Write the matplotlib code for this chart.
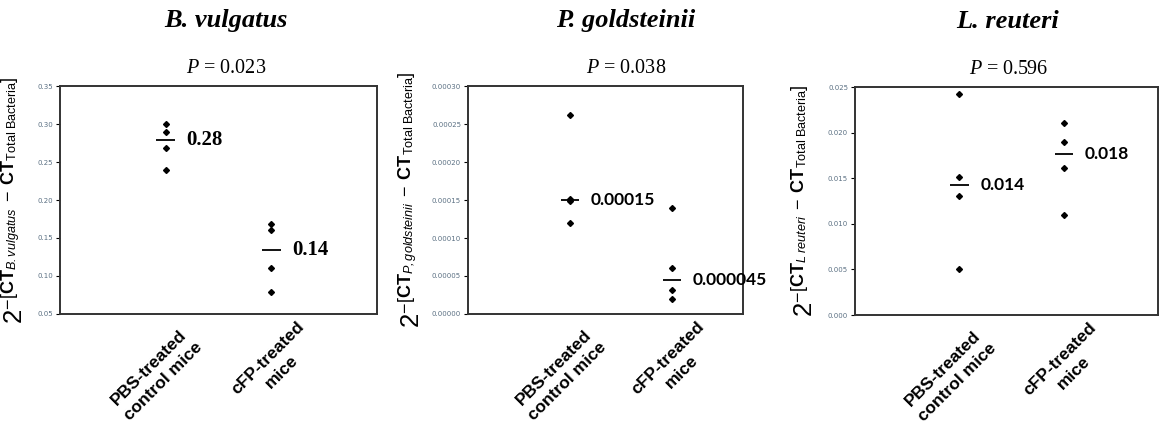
import matplotlib
matplotlib.use('Agg')
from matplotlib import pyplot as plt
from matplotlib.ticker import FormatStrFormatter
import matplotlib.transforms as mtrans
import numpy as np

plt.rcParams['mathtext.fontset'] = 'custom'
plt.rcParams['mathtext.rm'] = 'Liberation Sans'
plt.rcParams['mathtext.sf'] = 'Liberation Sans:italic'
plt.rcParams['mathtext.it'] = 'Liberation Serif:italic'
plt.rcParams['mathtext.bf'] = 'Liberation Sans:bold'

groups = ['PBS-treated\ncontrol mice', 'cFP-treated\nmice']

titles = ['B. vulgatus', 'P. goldsteinii', 'L. reuteri']
pvals = ['0.023', '0.038', '0.596']
species_sub = ['B. vulgatus', 'P, goldsteinii', 'L\\ reuteri']

# individual mice
bv_pbs = [0.300, 0.289, 0.269, 0.240]
bv_cfp = [0.169, 0.160, 0.110, 0.079]
pg_pbs = [0.000262, 0.000151, 0.000149, 0.000120]
pg_cfp = [0.000140, 0.000060, 0.000032, 0.000020]
lr_pbs = [0.0242, 0.0151, 0.0131, 0.0050]
lr_cfp = [0.0211, 0.0190, 0.0161, 0.0110]

# group means as drawn / labelled
bv_mean = [0.279, 0.134]
pg_mean = [0.00015, 0.000045]
lr_mean = [0.0142, 0.01765]
bv_lab = ['0.28', '0.14']
pg_lab = ['0.00015', '0.000045']
lr_lab = ['0.014', '0.018']

ylims = [(0.05, 0.35), (0.0, 0.0003), (0.0, 0.025)]
ysteps = [0.05, 0.00005, 0.005]
yfmts = ['%.2f', '%.5f', '%.3f']

panels = [
    (bv_pbs, bv_cfp, bv_mean, bv_lab),
    (pg_pbs, pg_cfp, pg_mean, pg_lab),
    (lr_pbs, lr_cfp, lr_mean, lr_lab),
]

W, H = 1162, 430
# axes boxes in pixels: left, right, top, bottom
boxes = [(60, 377, 86, 314), (468, 743, 86, 314), (855, 1158, 87, 315)]
xlims = [(0, 3.0), (0, 2.7), (0, 2.9)]
ylab_x = [-0.10, -0.156, -0.122]
title_x = [0.525, 0.575, 0.505]
lab_fonts = ['Liberation Serif', 'Lato', 'Lato']
lab_sizes = [15, 12.5, 12.5]

fig = plt.figure(figsize=(W / 100, H / 100), dpi=100)

for i, (pbs, cfp, means, labs) in enumerate(panels):
    l, r, t, b = boxes[i]
    ax = fig.add_axes([l / W, 1 - b / H, (r - l) / W, (b - t) / H])
    xs = [1, 2]
    for x, vals in zip(xs, [pbs, cfp]):
        ax.plot([x] * len(vals), vals, 'D', color='black', ms=3, clip_on=False)
    for x, m, s in zip(xs, means, labs):
        ax.hlines(m, x - 0.09, x + 0.09, color='black', lw=1.3)
        ax.annotate(s, (x, m), xytext=(15, 0), textcoords='offset points',
                    ha='left', va='center', fontsize=lab_sizes[i], fontweight='bold',
                    family=lab_fonts[i])
    ax.set_xlim(*xlims[i])
    lo, hi = ylims[i]
    ax.set_ylim(lo, hi)
    ax.set_yticks(np.arange(lo, hi + ysteps[i] / 2, ysteps[i]))
    ax.yaxis.set_major_formatter(FormatStrFormatter(yfmts[i]))
    ax.tick_params(axis='y', labelsize=5, labelcolor='#5b7083', length=3,
                   width=0.8, pad=2)
    ax.set_xticks(xs)
    ax.set_xticklabels(groups, rotation=45, ha='right', va='center',
                       rotation_mode='anchor', multialignment='center',
                       fontsize=12.5, fontweight='bold', family='Liberation Sans',
                       linespacing=1.4)
    ax.tick_params(axis='x', length=0, pad=0)
    offs = [(27, 24), (37, 17)]
    for lbl, (dx, dy) in zip(ax.get_xticklabels(), offs):
        lbl.set_transform(lbl.get_transform() +
                          mtrans.ScaledTranslation(dx / 100, -dy / 100, fig.dpi_scale_trans))
    for sp in ax.spines.values():
        sp.set_linewidth(1.4)
        sp.set_color('#333333')
    ylab = (r'$2^{-[\mathbf{CT}_{\mathsf{' + species_sub[i] + r'}}\ -\ '
            r'\mathbf{CT}_{\mathrm{Total\ Bacteria}}]}$')
    ax.set_ylabel(ylab, fontsize=18.5, family='Liberation Sans')
    ax.yaxis.set_label_coords(ylab_x[i], 0.5)
    ax.text(title_x[i], 1 + (86 - 20) / (b - t), titles[i], transform=ax.transAxes,
            ha='center', va='center', fontsize=19, fontweight='bold',
            fontstyle='italic', family='Liberation Serif')
    ax.text(title_x[i], 1 + (86 - 68) / (b - t), r'$\mathit{P}$ = ' + pvals[i],
            transform=ax.transAxes, ha='center', va='center', fontsize=14.5,
            family='Liberation Serif')

fig.savefig('out.png', dpi=100)
